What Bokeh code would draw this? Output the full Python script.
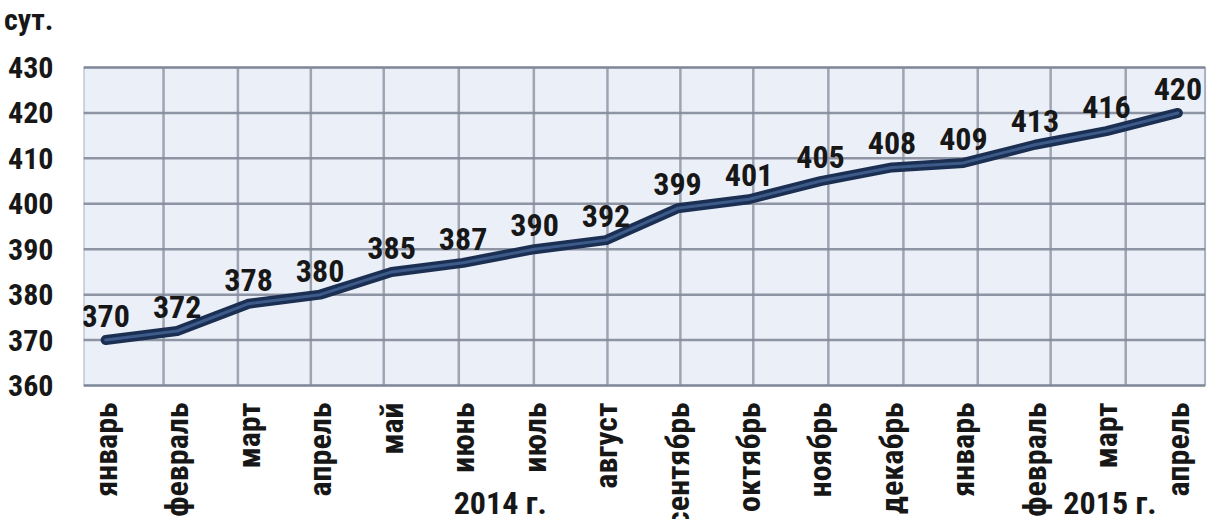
import math
from bokeh.plotting import figure
from bokeh.models import Range1d, FixedTicker, ColumnDataSource
from bokeh.core.properties import value
from bokeh.embed import file_html
from bokeh.resources import INLINE

# ---- data ----
months = ["январь", "февраль", "март", "апрель", "май", "июнь", "июль", "август",
          "сентябрь", "октябрь", "ноябрь", "декабрь", "январь", "февраль", "март", "апрель"]
days = [370, 372, 378, 380, 385, 387, 390, 392, 399, 401, 405, 408, 409, 413, 416, 420]
y_ticks = [360, 370, 380, 390, 400, 410, 420, 430]
unit_label = "сут."
year_labels = ["2014 г.", "2015 г."]

# ---- layout constants (positions in axis units) ----
X_MIN, X_PLOT_MAX, X_CANVAS_MAX = -0.31, 15.38, 15.54
Y_MIN, Y_MAX = 360, 430
Y_CANVAS_MIN, Y_CANVAS_MAX = 330.5, 444.75
UNIT_Y = 440.6
year_x = [5.52, 14.05]
vgrid_x = [0.81, 1.85, 2.87, 3.89, 4.94, 5.99, 7.02, 8.04, 9.06, 10.11, 11.16, 12.2, 13.22, 14.27]

FONT = "Roboto Condensed"
INK = "#171717"

xs = list(range(len(days)))
src = ColumnDataSource(dict(x=xs, y=days, t=[str(d) for d in days]))
msrc = ColumnDataSource(dict(x=xs, y=[Y_MIN] * len(xs), t=months))

p = figure(width=1216, height=519, output_backend="svg", toolbar_location=None,
           x_range=Range1d(X_MIN, X_CANVAS_MAX), y_range=Range1d(Y_CANVAS_MIN, Y_CANVAS_MAX),
           x_axis_location=None,
           min_border_left=83, min_border_right=0, min_border_top=0, min_border_bottom=0)
p.background_fill_color = "white"
p.border_fill_color = "white"
p.outline_line_color = None
p.grid.visible = False

# y axis (the unit "сут." sits as the top label of the value axis)
p.yaxis.ticker = FixedTicker(ticks=y_ticks + [UNIT_Y])
p.yaxis.major_label_overrides = {UNIT_Y: unit_label}
p.yaxis.axis_line_color = None
p.yaxis.major_tick_line_color = None
p.yaxis.minor_tick_line_color = None
p.yaxis.major_label_text_font = FONT
p.yaxis.major_label_text_font_style = "bold"
p.yaxis.major_label_text_font_size = "30px"
p.yaxis.major_label_text_color = INK
p.yaxis.major_label_standoff = 24

# plot area
p.quad(left=X_MIN, right=X_PLOT_MAX, bottom=Y_MIN, top=Y_MAX,
       fill_color="#ebeff7", line_color="#a9b0c0", line_width=2)
# horizontal grid
p.segment(x0=X_MIN, x1=X_PLOT_MAX, y0=y_ticks, y1=y_ticks,
          line_color="#757d8e", line_width=2.5, line_alpha=0.8)
# vertical grid
p.segment(x0=vgrid_x, x1=vgrid_x, y0=Y_MIN, y1=Y_MAX,
          line_color="#858b9c", line_width=2.5, line_alpha=0.75)

# series line
p.line("x", "y", source=src, line_color="#1b2f52", line_width=10, line_cap="round", line_join="round")
p.line("x", "y", source=src, line_color="#3d5b8a", line_width=3, line_cap="round", line_join="round")

# value labels
p.text("x", "y", text="t", source=src, text_align="center", text_baseline="middle",
       y_offset=-24, text_font=value(FONT), text_font_style="bold",
       text_font_size="32px", text_color=INK)

# month labels (rotated, under the plot area)
p.text("x", "y", text="t", source=msrc, angle=math.pi / 2, text_align="right",
       text_baseline="middle", y_offset=17, text_font=value(FONT), text_font_style="bold",
       text_font_size="32px", text_color=INK)

# year labels
p.text(x=year_x, y=[Y_CANVAS_MIN] * 2, text=year_labels, text_align="center",
       text_baseline="middle", y_offset=-17, text_font=value(FONT), text_font_style="bold",
       text_font_size="32px", text_color=INK)

open("out.html", "w").write(file_html(p, INLINE))
